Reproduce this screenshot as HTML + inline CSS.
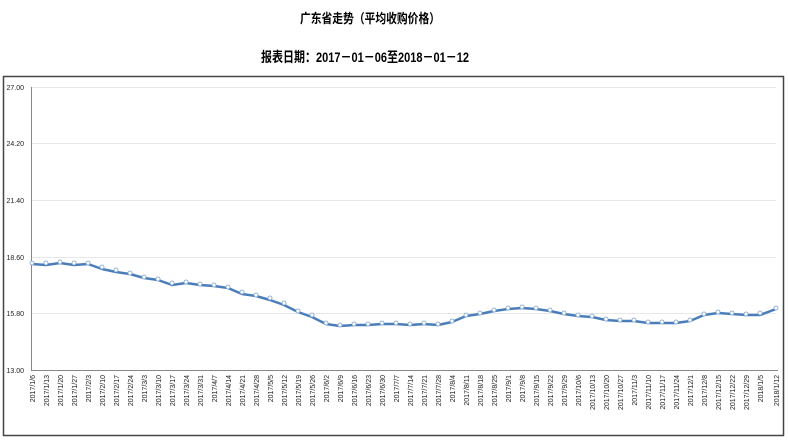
<!DOCTYPE html>
<html><head><meta charset="utf-8"><style>
html,body{margin:0;padding:0;background:#fff;}
svg{display:block;}
.t{font-family:"Liberation Sans","Noto Sans CJK SC",sans-serif;}
.ax{font-family:"Liberation Sans",sans-serif;font-size:7px;fill:#222;}
</style></head><body>
<svg width="788" height="447" viewBox="0 0 788 447" xmlns="http://www.w3.org/2000/svg">
<text class="t" x="370" y="23" text-anchor="middle" font-size="13" font-weight="bold" textLength="140" lengthAdjust="spacingAndGlyphs">广东省走势（平均收购价格）</text>
<text class="t" x="365" y="62" text-anchor="middle" font-size="14" font-weight="bold" textLength="208" lengthAdjust="spacingAndGlyphs">报表日期：2017－01－06至2018－01－12</text>
<rect x="3.5" y="76.5" width="780" height="359" fill="#fff" stroke="#444" stroke-width="1.5"/>
<g stroke="#e8e8e8" stroke-width="1">
<line x1="32" y1="87.5" x2="776" y2="87.5"/>
<line x1="32" y1="143.5" x2="776" y2="143.5"/>
<line x1="32" y1="200.5" x2="776" y2="200.5"/>
<line x1="32" y1="257.5" x2="776" y2="257.5"/>
<line x1="32" y1="313.5" x2="776" y2="313.5"/>
</g>
<line x1="31.5" y1="87" x2="31.5" y2="370" stroke="#888"/>
<line x1="31" y1="370.5" x2="778" y2="370.5" stroke="#888"/>
<g class="ax" text-anchor="end">
<text x="24" y="90">27.00</text>
<text x="24" y="146">24.20</text>
<text x="24" y="203">21.40</text>
<text x="24" y="260">18.60</text>
<text x="24" y="316">15.80</text>
<text x="24" y="373">13.00</text>
</g>
<polyline fill="none" stroke="#4a7ebb" stroke-width="2.5" stroke-linejoin="round" points="32,264 46,265 60,263 74,265 88,264 102,269 116,272 130,274 144,278 158,280 172,285 186,283 200,285 214,286 228,288 242,294 256,296 270,300 284,305 298,312 312,317 326,324 340,326 354,325 368,325 382,324 396,324 410,325 424,324 438,325 452,322 466,316 480,314 494,311 508,309 522,308 536,309 550,311 564,314 578,316 592,317 606,320 620,321 634,321 648,323 662,323 676,323 690,321 704,315 718,313 732,314 746,315 760,315 776,309"/>
<g fill="#fff" stroke="#7aa0d0" stroke-width="0.8">
<circle cx="32" cy="263" r="2"/><circle cx="46" cy="263" r="2"/><circle cx="60" cy="262" r="2"/><circle cx="74" cy="263" r="2"/><circle cx="88" cy="263" r="2"/><circle cx="102" cy="267" r="2"/><circle cx="116" cy="270" r="2"/><circle cx="130" cy="273" r="2"/><circle cx="144" cy="277" r="2"/><circle cx="158" cy="279" r="2"/><circle cx="172" cy="283" r="2"/><circle cx="186" cy="282" r="2"/><circle cx="200" cy="284" r="2"/><circle cx="214" cy="285" r="2"/><circle cx="228" cy="287" r="2"/><circle cx="242" cy="292" r="2"/><circle cx="256" cy="295" r="2"/><circle cx="270" cy="298" r="2"/><circle cx="284" cy="303" r="2"/><circle cx="298" cy="311" r="2"/><circle cx="312" cy="315" r="2"/><circle cx="326" cy="323" r="2"/><circle cx="340" cy="325" r="2"/><circle cx="354" cy="324" r="2"/><circle cx="368" cy="324" r="2"/><circle cx="382" cy="323" r="2"/><circle cx="396" cy="323" r="2"/><circle cx="410" cy="324" r="2"/><circle cx="424" cy="323" r="2"/><circle cx="438" cy="324" r="2"/><circle cx="452" cy="321" r="2"/><circle cx="466" cy="315" r="2"/><circle cx="480" cy="313" r="2"/><circle cx="494" cy="310" r="2"/><circle cx="508" cy="308" r="2"/><circle cx="522" cy="307" r="2"/><circle cx="536" cy="308" r="2"/><circle cx="550" cy="310" r="2"/><circle cx="564" cy="313" r="2"/><circle cx="578" cy="315" r="2"/><circle cx="592" cy="316" r="2"/><circle cx="606" cy="319" r="2"/><circle cx="620" cy="320" r="2"/><circle cx="634" cy="320" r="2"/><circle cx="648" cy="322" r="2"/><circle cx="662" cy="322" r="2"/><circle cx="676" cy="322" r="2"/><circle cx="690" cy="320" r="2"/><circle cx="704" cy="314" r="2"/><circle cx="718" cy="312" r="2"/><circle cx="732" cy="313" r="2"/><circle cx="746" cy="314" r="2"/><circle cx="760" cy="313" r="2"/><circle cx="776" cy="308" r="2"/>
</g>
<g class="ax" text-anchor="end">
<text transform="translate(35,375) rotate(-90)">2017/1/6</text>
<text transform="translate(49,375) rotate(-90)">2017/1/13</text>
<text transform="translate(63,375) rotate(-90)">2017/1/20</text>
<text transform="translate(77,375) rotate(-90)">2017/1/27</text>
<text transform="translate(91,375) rotate(-90)">2017/2/3</text>
<text transform="translate(105,375) rotate(-90)">2017/2/10</text>
<text transform="translate(119,375) rotate(-90)">2017/2/17</text>
<text transform="translate(133,375) rotate(-90)">2017/2/24</text>
<text transform="translate(147,375) rotate(-90)">2017/3/3</text>
<text transform="translate(161,375) rotate(-90)">2017/3/10</text>
<text transform="translate(175,375) rotate(-90)">2017/3/17</text>
<text transform="translate(189,375) rotate(-90)">2017/3/24</text>
<text transform="translate(203,375) rotate(-90)">2017/3/31</text>
<text transform="translate(217,375) rotate(-90)">2017/4/7</text>
<text transform="translate(231,375) rotate(-90)">2017/4/14</text>
<text transform="translate(245,375) rotate(-90)">2017/4/21</text>
<text transform="translate(259,375) rotate(-90)">2017/4/28</text>
<text transform="translate(273,375) rotate(-90)">2017/5/5</text>
<text transform="translate(287,375) rotate(-90)">2017/5/12</text>
<text transform="translate(301,375) rotate(-90)">2017/5/19</text>
<text transform="translate(315,375) rotate(-90)">2017/5/26</text>
<text transform="translate(329,375) rotate(-90)">2017/6/2</text>
<text transform="translate(343,375) rotate(-90)">2017/6/9</text>
<text transform="translate(357,375) rotate(-90)">2017/6/16</text>
<text transform="translate(371,375) rotate(-90)">2017/6/23</text>
<text transform="translate(385,375) rotate(-90)">2017/6/30</text>
<text transform="translate(399,375) rotate(-90)">2017/7/7</text>
<text transform="translate(413,375) rotate(-90)">2017/7/14</text>
<text transform="translate(427,375) rotate(-90)">2017/7/21</text>
<text transform="translate(441,375) rotate(-90)">2017/7/28</text>
<text transform="translate(455,375) rotate(-90)">2017/8/4</text>
<text transform="translate(469,375) rotate(-90)">2017/8/11</text>
<text transform="translate(483,375) rotate(-90)">2017/8/18</text>
<text transform="translate(497,375) rotate(-90)">2017/8/25</text>
<text transform="translate(511,375) rotate(-90)">2017/9/1</text>
<text transform="translate(525,375) rotate(-90)">2017/9/8</text>
<text transform="translate(539,375) rotate(-90)">2017/9/15</text>
<text transform="translate(553,375) rotate(-90)">2017/9/22</text>
<text transform="translate(567,375) rotate(-90)">2017/9/29</text>
<text transform="translate(581,375) rotate(-90)">2017/10/6</text>
<text transform="translate(595,375) rotate(-90)">2017/10/13</text>
<text transform="translate(609,375) rotate(-90)">2017/10/20</text>
<text transform="translate(623,375) rotate(-90)">2017/10/27</text>
<text transform="translate(637,375) rotate(-90)">2017/11/3</text>
<text transform="translate(651,375) rotate(-90)">2017/11/10</text>
<text transform="translate(665,375) rotate(-90)">2017/11/17</text>
<text transform="translate(679,375) rotate(-90)">2017/11/24</text>
<text transform="translate(693,375) rotate(-90)">2017/12/1</text>
<text transform="translate(707,375) rotate(-90)">2017/12/8</text>
<text transform="translate(721,375) rotate(-90)">2017/12/15</text>
<text transform="translate(735,375) rotate(-90)">2017/12/22</text>
<text transform="translate(749,375) rotate(-90)">2017/12/29</text>
<text transform="translate(763,375) rotate(-90)">2018/1/5</text>
<text transform="translate(779,375) rotate(-90)">2018/1/12</text>
</g>
</svg>
</body></html>
